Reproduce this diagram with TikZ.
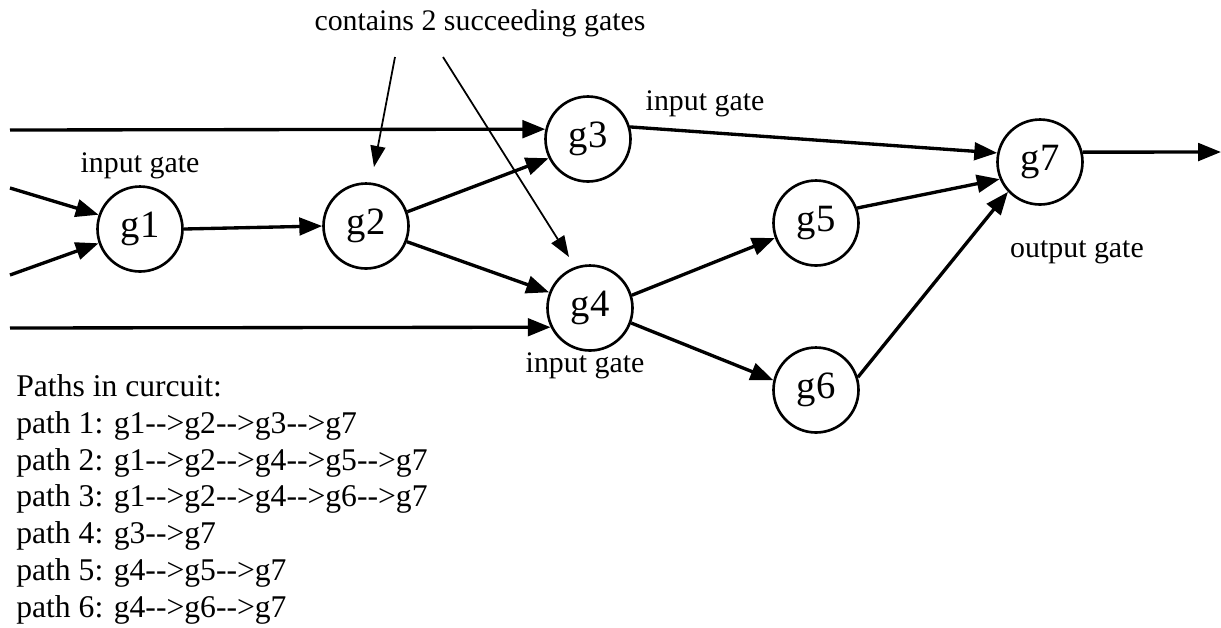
\documentclass[tikz,border=0pt]{standalone}
\usepackage{fontspec}
\setmainfont{Liberation Serif}
\usetikzlibrary{arrows.meta}
\begin{document}
\begin{tikzpicture}[x=0.02cm,y=-0.02cm,
  gate/.style={circle,draw,line width=1.5pt,minimum size=1.7cm,inner sep=0pt,
    font=\fontsize{22}{24}\selectfont},
  wire/.style={line width=1.9pt,-{Triangle[length=13pt,width=10pt]}},
  pointer/.style={line width=1pt,-{Triangle[length=12pt,width=8.5pt]}},
  note/.style={font=\fontsize{17}{20}\selectfont,inner sep=0pt}]
\fill[white] (0,0) rectangle (1221,627);
\useasboundingbox (0,0) rectangle (1221,627);

% gates
\node[gate] (g1) at (140,229) {g1};
\node[gate] (g2) at (366,226) {g2};
\node[gate] (g3) at (588,139) {g3};
\node[gate] (g4) at (590,308) {g4};
\node[gate] (g5) at (816,223) {g5};
\node[gate] (g6) at (816,390) {g6};
\node[gate] (g7) at (1040,162) {g7};

% free ends of the primary inputs and the output
\coordinate (in1) at (10,130);
\coordinate (in2) at (10,188);
\coordinate (in3) at (10,275);
\coordinate (in4) at (10,328);
\coordinate (out) at (1221,152);

% wires
\draw[wire] (in1) -- (g3.167);
\draw[wire] (in2) -- (g1.161);
\draw[wire] (in3) -- (g1.199);
\draw[wire] (in4) -- (g4.206);
\draw[wire] (g1.east) -- (g2.west);
\draw[wire] (g2.19) -- (g3.206);
\draw[wire] (g2.-21) -- (g4.159);
\draw[wire] (g3.16) -- (g7.168);
\draw[wire] (g4.17) -- (g5.200);
\draw[wire] (g4.-20) -- (g6.167);
\draw[wire] (g5.20) -- (g7.203);
\draw[wire] (g6.17) -- (g7.223);
\draw[wire] (g7.13) -- (out);

% labels
\node[note,anchor=base] (succ) at (480,30) {contains 2 succeeding gates};
\coordinate (s1) at (395,57);
\coordinate (s2) at (443,57);
\coordinate (t1) at (374,167);
\coordinate (t2) at (569,257);
\draw[pointer] (s1) -- (t1);
\draw[pointer] (s2) -- (t2);

\node[note,anchor=base] (lab1) at (140,172) {input gate};
\node[note,anchor=base] (lab3) at (705,110) {input gate};
\node[note,anchor=base] (lab4) at (585,372) {input gate};
\node[note,anchor=base] (lab7) at (1077,257) {output gate};

% list of paths
\node[note,anchor=north west,align=left,font=\fontsize{18}{21}\selectfont] (paths) at (16,374)
  {Paths in curcuit:\\
   path 1: g1-{}->g2-{}->g3-{}->g7\\
   path 2: g1-{}->g2-{}->g4-{}->g5-{}->g7\\
   path 3: g1-{}->g2-{}->g4-{}->g6-{}->g7\\
   path 4: g3-{}->g7\\
   path 5: g4-{}->g5-{}->g7\\
   path 6: g4-{}->g6-{}->g7};
\end{tikzpicture}
\end{document}
